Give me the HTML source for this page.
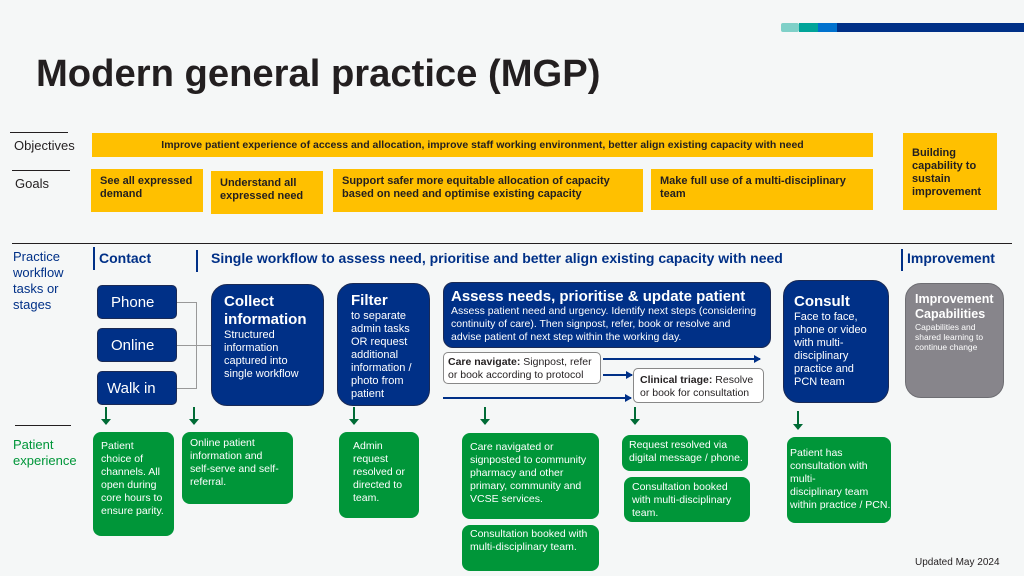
<!DOCTYPE html>
<html><head><meta charset="utf-8"><style>
body{margin:0;width:1024px;height:576px;background:#f5f7f7;font-family:"Liberation Sans",Arial,sans-serif;position:relative;overflow:hidden}
div{position:absolute;box-sizing:border-box}
.y{background:#ffc000;color:#231f20;font-weight:bold;font-size:11px;line-height:13px;padding:6px 9px}
.n{background:#003087;color:#fff;border:1px solid #1a2a55}
.g{background:#009639;color:#fff;font-size:10.5px;line-height:13px;padding:8px 8px;border-radius:8px}
.hl{height:1px;background:#231f20}
.lab{font-size:13px;line-height:16px}
.vs{width:1.5px;background:#003087}
.h{color:#003087;font-weight:bold;font-size:14px}
.ch{border-radius:5px;font-size:15px;color:#fff;padding-left:13px;line-height:33px}
.big{border-radius:16px;padding:8px 12px;font-size:11px;line-height:13px}
.big b{font-size:15px;line-height:18px;display:block}
.w{background:#fff;border:1px solid #888;border-radius:5px;font-size:10.5px;line-height:13px;padding:3px 4px;color:#231f20}
.ga{width:2px;background:#006b35}
.ga:after{content:"";position:absolute;left:-4px;bottom:-1px;border-left:5px solid transparent;border-right:5px solid transparent;border-top:6px solid #006b35}
.ba{height:1.5px;background:#003087}
.ba:after{content:"";position:absolute;right:-1px;top:-3.5px;border-top:4px solid transparent;border-bottom:4px solid transparent;border-left:7px solid #003087}
.gl{background:#999}
</style></head><body>
<div style="left:781px;top:23px;width:18px;height:9px;background:#7fd0c8;border-radius:2px"></div>
<div style="left:799px;top:23px;width:19px;height:9px;background:#00a499"></div>
<div style="left:818px;top:23px;width:19px;height:9px;background:#0072ce"></div>
<div style="left:837px;top:23px;width:187px;height:9px;background:#003087"></div>
<div style="left:36px;top:52px;font-size:38.2px;font-weight:bold;color:#231f20;line-height:44px">Modern general practice (MGP)</div>

<div class="hl" style="left:10px;top:132px;width:58px"></div>
<div class="lab" style="left:14px;top:138px;color:#231f20">Objectives</div>
<div class="hl" style="left:12px;top:170px;width:58px"></div>
<div class="lab" style="left:15px;top:176px;color:#231f20">Goals</div>
<div class="y" style="left:92px;top:133px;width:781px;height:24px;text-align:center;padding-top:6px;font-size:10.5px">Improve patient experience of access and allocation, improve staff working environment, better align existing capacity with need</div>
<div class="y" style="left:91px;top:169px;width:112px;height:43px">See all expressed demand</div>
<div class="y" style="left:211px;top:171px;width:112px;height:43px">Understand all expressed need</div>
<div class="y" style="left:333px;top:169px;width:310px;height:43px">Support safer more equitable allocation of capacity based on need and optimise existing capacity</div>
<div class="y" style="left:651px;top:169px;width:222px;height:41px">Make full use of a multi-disciplinary team</div>
<div class="y" style="left:903px;top:133px;width:94px;height:77px;padding-top:14px">Building capability to sustain improvement</div>

<div class="hl" style="left:12px;top:243px;width:1000px"></div>
<div class="lab" style="left:13px;top:249px;color:#003087">Practice<br>workflow<br>tasks or<br>stages</div>
<div class="vs" style="left:93px;top:247px;height:23px"></div>
<div class="vs" style="left:196px;top:250px;height:22px"></div>
<div class="vs" style="left:901px;top:249px;height:22px"></div>
<div class="h" style="left:99px;top:250px">Contact</div>
<div class="h" style="left:211px;top:250px">Single workflow to assess need, prioritise and better align existing capacity with need</div>
<div class="h" style="left:907px;top:250px">Improvement</div>

<div class="gl" style="left:177px;top:302px;width:19px;height:1px"></div>
<div class="gl" style="left:177px;top:345px;width:34px;height:1px"></div>
<div class="gl" style="left:177px;top:388px;width:19px;height:1px"></div>
<div class="gl" style="left:196px;top:302px;width:1px;height:87px"></div>
<div class="n ch" style="left:97px;top:285px;width:80px;height:34px">Phone</div>
<div class="n ch" style="left:97px;top:328px;width:80px;height:34px">Online</div>
<div class="n ch" style="left:97px;top:371px;width:80px;height:34px;padding-left:9px">Walk in</div>

<div class="n big" style="left:211px;top:284px;width:113px;height:122px;padding-top:8px">
<b>Collect information</b>Structured information captured into single workflow</div>
<div class="n big" style="left:337px;top:283px;width:93px;height:123px;padding-left:13px"><b>Filter</b>to separate admin tasks OR request additional information / photo from patient</div>
<div class="n big" style="left:443px;top:282px;width:328px;height:66px;padding:5px 7px;font-size:10.5px;line-height:13px;border-radius:10px"><b style="font-size:15px;line-height:17px">Assess needs, prioritise &amp; update patient</b>Assess patient need and urgency. Identify next steps (considering continuity of care). Then signpost, refer, book or resolve and advise patient of next step within the working day.</div>
<div class="w" style="left:443px;top:352px;width:158px;height:32px"><b>Care navigate:</b> Signpost, refer or book according to protocol</div>
<div class="w" style="left:633px;top:368px;width:131px;height:35px;padding:5px 6px"><b>Clinical triage:</b> Resolve or book for consultation</div>
<div class="ba" style="left:603px;top:358px;width:157px"></div>
<div class="ba" style="left:603px;top:374px;width:29px"></div>
<div class="ba" style="left:443px;top:397px;width:188px"></div>
<div class="n big" style="left:783px;top:280px;width:106px;height:123px;padding:12px 8px 12px 10px"><b>Consult</b>Face to face, phone or video with multi-disciplinary practice and PCN team</div>
<div class="big" style="left:905px;top:283px;width:99px;height:115px;background:#87858b;color:#fff;border:1px solid #6e6e73;padding:8px 9px;font-size:8.5px;line-height:10px"><b style="font-size:12.5px;line-height:15px">Improvement Capabilities</b>Capabilities and shared learning to continue change</div>

<div class="ga" style="left:105px;top:407px;height:17px"></div>
<div class="ga" style="left:193px;top:407px;height:17px"></div>
<div class="ga" style="left:353px;top:407px;height:17px"></div>
<div class="ga" style="left:484px;top:407px;height:17px"></div>
<div class="ga" style="left:634px;top:407px;height:17px"></div>
<div class="ga" style="left:797px;top:411px;height:18px"></div>

<div class="hl" style="left:15px;top:425px;width:56px"></div>
<div class="lab" style="left:13px;top:437px;color:#009639">Patient<br>experience</div>
<div class="g" style="left:93px;top:432px;width:81px;height:104px">Patient choice of channels. All open during core hours to ensure parity.</div>
<div class="g" style="left:182px;top:432px;width:111px;height:72px;padding-top:5px">Online patient information and self-serve and self-referral.</div>
<div class="g" style="left:339px;top:432px;width:80px;height:86px;padding-left:14px">Admin request resolved or directed to team.</div>
<div class="g" style="left:462px;top:433px;width:137px;height:86px;padding-top:8px">Care navigated or signposted to community pharmacy and other primary, community and VCSE services.</div>
<div class="g" style="left:462px;top:525px;width:137px;height:46px;padding-top:3px">Consultation booked with multi-disciplinary team.</div>
<div class="g" style="left:622px;top:435px;width:126px;height:36px;padding:4px 0 0 7px;white-space:nowrap">Request resolved via<br>digital message / phone.</div>
<div class="g" style="left:624px;top:477px;width:126px;height:45px;padding-top:4px">Consultation booked with multi-disciplinary team.</div>
<div class="g" style="left:787px;top:437px;width:104px;height:86px;padding:10px 0 0 3px;white-space:nowrap">Patient has<br>consultation with<br>multi-<br>disciplinary team<br>within practice / PCN.</div>
<div style="left:915px;top:557px;font-size:10px;color:#231f20">Updated May 2024</div>
</body></html>
